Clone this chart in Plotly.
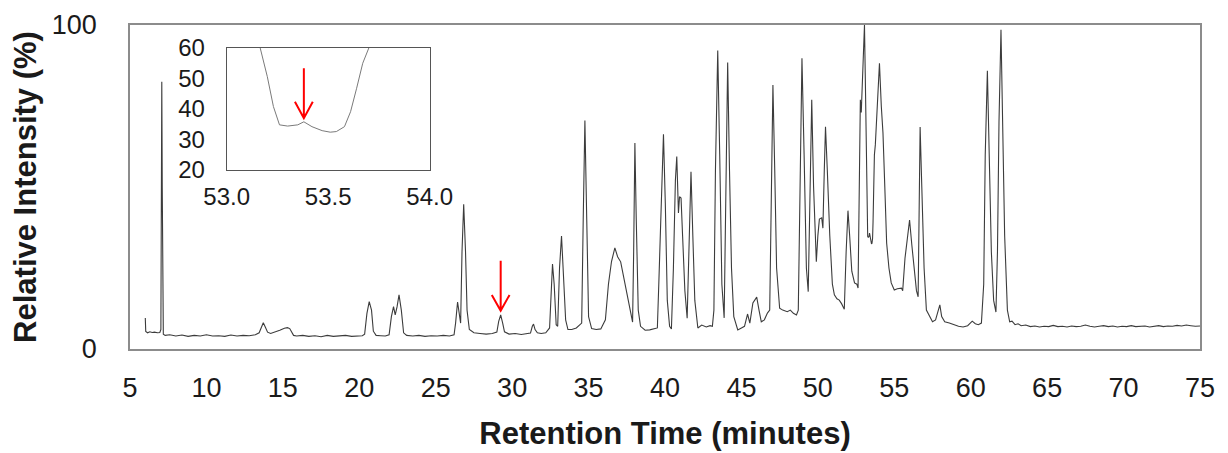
import plotly.graph_objects as go

# ---- data ----
rt_min = [
    6.00, 6.03, 6.15, 6.30, 6.45, 6.60, 6.80, 6.95, 7.02, 7.06, 7.08, 7.11, 7.14, 7.18, 7.30,
    7.6, 8.0, 8.4, 8.8, 9.2, 9.6, 10.0, 10.4, 10.8, 11.2, 11.6, 12.0, 12.4, 12.8, 13.2,
    13.45, 13.6, 13.72, 13.85, 14.0, 14.2, 14.5, 14.8, 15.1, 15.3, 15.45, 15.6, 15.7, 15.9,
    16.3, 16.7, 17.1, 17.5, 17.9, 18.3, 18.7, 19.1, 19.5, 19.9, 20.2, 20.35, 20.5, 20.65, 20.8, 20.92,
    21.1, 21.4, 21.7, 21.95, 22.1, 22.24, 22.35, 22.47, 22.6, 22.75, 22.9,
    23.1, 23.5, 23.9, 24.3, 24.7, 25.1, 25.5, 25.9, 26.2, 26.3, 26.43, 26.55, 26.63, 26.72, 26.83, 26.95,
    27.05, 27.2, 27.5, 27.9, 28.3, 28.7, 29.0, 29.12, 29.25, 29.38, 29.5, 29.8, 30.2, 30.6, 31.0,
    31.2, 31.32, 31.4, 31.5, 31.65, 31.9, 32.2, 32.45, 32.55, 32.64, 32.75, 32.88, 32.98, 33.1, 33.23,
    33.35, 33.5, 33.65, 33.9, 34.2, 34.4, 34.55, 34.65, 34.76, 34.88, 35.0, 35.2, 35.5, 35.8,
    36.1, 36.3, 36.5, 36.72, 36.9, 37.1, 37.4, 37.7, 37.88, 37.95, 38.03, 38.12, 38.25, 38.4, 38.7,
    39.0, 39.3, 39.5, 39.6, 39.75, 39.9, 40.02, 40.15, 40.3, 40.42, 40.55, 40.68, 40.77, 40.88, 40.95,
    41.05, 41.15, 41.3, 41.45, 41.58, 41.7, 41.82, 41.95, 42.15, 42.4, 42.7, 42.95, 43.1, 43.2, 43.3,
    43.45, 43.58, 43.72, 43.87, 43.97, 44.1, 44.22, 44.35, 44.5, 44.76, 45.0, 45.2, 45.4, 45.55, 45.75,
    46.0, 46.15, 46.3, 46.5, 46.7, 46.85, 46.95, 47.06, 47.18, 47.3, 47.5, 47.7, 48.0, 48.2, 48.4,
    48.6, 48.72, 48.82, 48.96, 49.1, 49.25, 49.37, 49.47, 49.6, 49.72, 49.9, 50.0, 50.1, 50.25, 50.33,
    50.42, 50.5, 50.62, 50.78, 50.95, 51.08, 51.25, 51.4, 51.55, 51.73, 51.85, 51.97, 52.08, 52.22, 52.4,
    52.55, 52.63, 52.7, 52.78, 52.84, 52.92, 53.05, 53.10, 53.165, 53.20, 53.23, 53.26, 53.30, 53.35, 53.38,
    53.42, 53.47, 53.51, 53.54, 53.58, 53.61, 53.64, 53.67, 53.70, 53.76, 53.85, 53.92, 54.03, 54.15, 54.26,
    54.38, 54.5, 54.65, 54.8, 55.0, 55.2, 55.47, 55.55, 55.7, 55.85, 56.0, 56.15, 56.3, 56.45, 56.56,
    56.62, 56.69, 56.8, 56.95, 57.1, 57.3, 57.5, 57.7, 57.85, 57.98, 58.1, 58.3, 58.6, 58.9, 59.2,
    59.5, 59.8, 60.1, 60.3, 60.5, 60.7, 60.85, 60.95, 61.09, 61.2, 61.35, 61.5, 61.65, 61.75, 61.85,
    61.98, 62.1, 62.22, 62.4, 62.55, 62.7, 62.9, 63.1, 63.3, 63.6, 63.9, 64.2, 64.5, 64.8, 65.1,
    65.4, 65.7, 66.0, 66.3, 66.6, 66.9, 67.2, 67.5, 67.8, 68.1, 68.4, 68.7, 69.0, 69.3, 69.6,
    69.9, 70.2, 70.5, 70.8, 71.1, 71.4, 71.7, 72.0, 72.3, 72.6, 72.9, 73.2, 73.5, 73.8, 74.1,
    74.4, 74.7, 75.0,
]
rel_intensity = [
    9.6, 5.4, 5.0, 5.3, 5.1, 5.2, 5.0, 5.1, 6.0, 60.0, 82.5, 50.0, 10.0, 4.6, 4.2,
    4.4, 4.0, 4.3, 3.9, 4.2, 4.0, 4.4, 4.0, 4.1, 3.9, 4.3, 4.0, 4.2, 4.1, 4.4,
    5.0, 7.0, 8.1, 6.8, 5.2, 4.8, 5.2, 5.8, 6.4, 6.6, 6.3, 5.2, 4.2, 4.0,
    4.2, 3.9, 4.1, 3.8, 4.2, 3.9, 4.0, 4.2, 3.9, 4.0, 4.1, 4.6, 11.0, 14.6, 12.0, 5.5,
    4.2, 4.1, 4.0, 4.4, 10.0, 13.1, 10.5, 13.0, 16.7, 12.0, 5.0,
    4.2, 4.0, 4.2, 3.9, 4.1, 4.0, 4.2, 4.0, 4.4, 8.0, 14.5, 10.0, 8.0, 30.0, 44.7, 30.0,
    12.0, 6.0, 5.0, 4.8, 4.6, 4.8, 5.2, 8.5, 10.5, 8.0, 5.3, 4.6, 4.8, 4.5, 4.7,
    4.9, 7.0, 7.7, 6.0, 5.0, 4.8, 5.0, 6.5, 20.0, 26.2, 20.0, 7.5, 7.0, 25.0, 34.9,
    25.0, 9.0, 6.0, 6.0, 6.5, 7.2, 8.0, 40.0, 70.5, 40.0, 10.0, 6.3, 6.0, 6.2,
    9.0, 20.0, 27.0, 31.2, 28.5, 26.9, 20.0, 12.0, 8.3, 30.0, 63.6, 40.0, 12.0, 7.0, 5.8,
    5.9, 6.2, 6.5, 21.0, 45.0, 66.3, 45.0, 15.0, 7.0, 6.2, 25.0, 52.0, 59.4, 42.0, 47.0,
    46.6, 35.0, 18.0, 9.5, 30.0, 54.7, 35.0, 15.0, 6.5, 7.4, 6.8, 7.2, 7.0, 12.0, 55.0,
    92.1, 60.0, 20.0, 9.6, 40.0, 88.4, 55.0, 25.0, 10.0, 5.9, 6.5, 7.0, 10.8, 8.0, 14.2,
    16.0, 12.0, 8.4, 9.0, 11.1, 12.0, 50.0, 81.5, 55.0, 25.0, 12.6, 12.0, 11.5, 12.0, 11.0,
    10.5, 12.0, 50.0, 89.7, 60.0, 25.0, 17.7, 45.0, 76.9, 50.0, 26.9, 35.0, 40.1, 40.5, 37.3,
    55.0, 68.6, 55.0, 35.0, 20.0, 16.7, 15.5, 15.1, 14.0, 12.3, 30.0, 42.7, 35.0, 24.0, 20.4,
    20.0, 18.8, 45.0, 76.9, 73.0, 85.0, 100.0, 85.0, 60.0, 50.6, 40.8, 34.8, 34.4, 34.8, 35.8,
    34.2, 32.9, 32.4, 32.6, 34.2, 39.1, 46.8, 55.0, 60.0, 63.0, 72.0, 80.6, 88.2, 75.0, 66.7,
    50.0, 32.7, 25.0, 20.4, 18.2, 18.6, 18.8, 18.0, 28.0, 35.0, 39.8, 32.0, 25.0, 18.0, 16.1,
    45.0, 68.5, 50.0, 25.0, 12.0, 10.0, 8.4, 9.0, 12.0, 13.6, 10.0, 8.4, 8.0, 7.5, 7.0,
    6.8, 7.2, 8.6, 7.8, 7.5, 8.0, 20.0, 60.0, 85.9, 60.0, 30.0, 15.0, 11.4, 30.0, 70.0,
    98.5, 70.0, 35.0, 12.0, 8.4, 8.6, 7.5, 7.8, 7.2, 7.4, 6.9, 7.1, 6.8, 7.0, 6.9,
    7.3, 6.9, 7.0, 6.8, 7.1, 6.9, 7.0, 7.4, 7.0, 6.8, 7.0, 7.2, 6.9, 7.1, 6.8,
    7.0, 6.9, 7.2, 6.9, 7.0, 7.1, 6.8, 7.0, 7.2, 6.9, 7.1, 7.0, 7.3, 7.1, 7.4,
    7.2, 7.0, 7.1,
]

main_x_ticks = [5, 10, 15, 20, 25, 30, 35, 40, 45, 50, 55, 60, 65, 70, 75]
main_y_ticks = [0, 100]
inset_x_ticks = [53.0, 53.5, 54.0]
inset_x_ticklabels = ["53.0", "53.5", "54.0"]
inset_y_ticks = [20, 30, 40, 50, 60]

# marked minor peak (main) and its zoomed counterpart (inset)
arrow_main = {"x": 29.25, "y_top": 27.2, "y_tip": 11.8}
arrow_inset = {"x": 53.38, "y_top": 53.4, "y_tip": 37.0}

FONT = "Liberation Sans, Arial, sans-serif"

fig = go.Figure()
fig.add_trace(go.Scatter(x=rt_min, y=rel_intensity, mode="lines",
                         line=dict(color="#3c3c3c", width=1.1), xaxis="x", yaxis="y",
                         showlegend=False, hoverinfo="x+y"))
fig.add_trace(go.Scatter(x=rt_min, y=rel_intensity, mode="lines",
                         line=dict(color="#7a7a7a", width=1), xaxis="x2", yaxis="y2",
                         showlegend=False, hoverinfo="x+y"))

# red arrows drawn as paths
def arrow_path(x, y_top, y_tip, hw, hh):
    return (f"M{x},{y_top} L{x},{y_tip} "
            f"M{x - hw},{y_tip + hh} L{x},{y_tip} L{x + hw},{y_tip + hh}")

shapes = [
    dict(type="path", xref="x", yref="y",
         path=arrow_path(arrow_main["x"], arrow_main["y_top"], arrow_main["y_tip"], 0.58, 4.9),
         line=dict(color="#ff0000", width=2)),
    dict(type="path", xref="x2", yref="y2",
         path=arrow_path(arrow_inset["x"], arrow_inset["y_top"], arrow_inset["y_tip"], 0.044, 5.4),
         line=dict(color="#ff0000", width=2)),
]

fig.update_layout(
    width=1228, height=453,
    margin=dict(l=130, r=28, t=25, b=104, autoexpand=False),
    paper_bgcolor="white", plot_bgcolor="white",
    font=dict(family=FONT, color="#1a1a1a"),
    shapes=shapes,
    xaxis=dict(domain=[0, 1], range=[5, 75], tickvals=main_x_ticks, automargin=False,
               showline=True, mirror=True, linecolor="#8c8c8c", linewidth=1.5,
               showgrid=False, zeroline=False, ticks="", tickfont=dict(size=27),
               ticklabelstandoff=14,
               title=dict(text="<b>Retention Time (minutes)</b>", font=dict(size=31), standoff=20)),
    yaxis=dict(domain=[0, 1], range=[0, 100], tickvals=main_y_ticks, automargin=False,
               showline=True, mirror=True, linecolor="#8c8c8c", linewidth=1.5,
               showgrid=False, zeroline=False, ticks="", tickfont=dict(size=27),
               ticklabelstandoff=26,
               title=dict(text="<b>Relative Intensity (%)</b>", font=dict(size=31), standoff=6)),
    xaxis2=dict(domain=[0.0904, 0.2801], range=[53, 54], anchor="y2", automargin=False,
                tickvals=inset_x_ticks, ticktext=inset_x_ticklabels,
                showline=True, mirror=True, linecolor="#555555", linewidth=1,
                showgrid=False, zeroline=False, ticks="", tickfont=dict(size=24),
                ticklabelstandoff=5),
    yaxis2=dict(domain=[0.5525, 0.929], range=[20, 60], anchor="x2", automargin=False,
                tickvals=inset_y_ticks,
                showline=True, mirror=True, linecolor="#555555", linewidth=1,
                showgrid=False, zeroline=False, ticks="", tickfont=dict(size=24),
                ticklabelstandoff=16),
)

fig.write_html("out.html")
